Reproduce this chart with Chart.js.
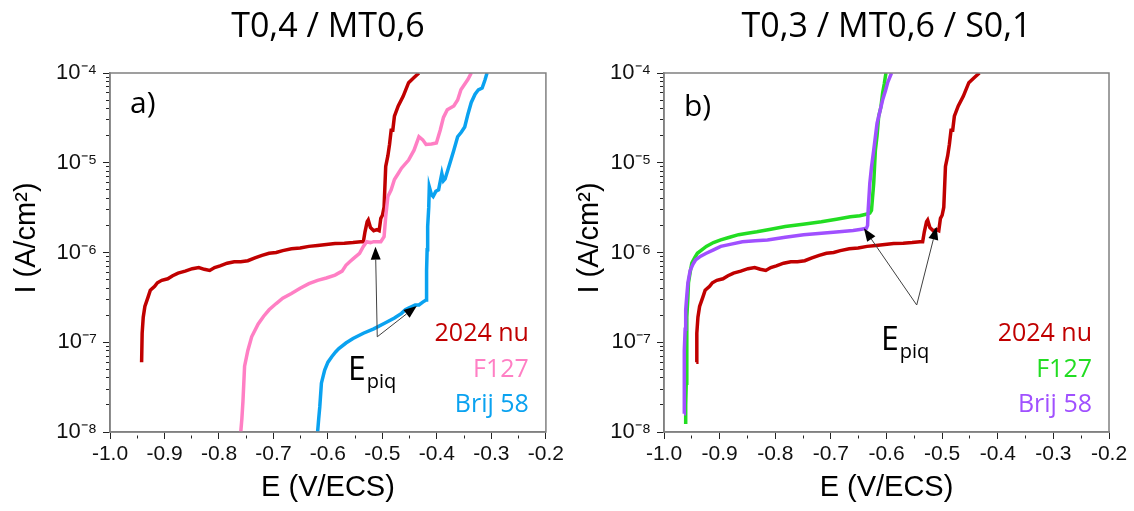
<!DOCTYPE html>
<html>
<head>
<meta charset="utf-8">
<script src="https://cdn.jsdelivr.net/npm/chart.js@4.4.1/dist/chart.umd.min.js"></script>
<style>
html,body{margin:0;padding:0;background:#fff;}
#wrap{position:relative;width:1134px;height:511px;}
canvas{position:absolute;top:0;}
</style>
</head>
<body>
<div id="wrap">
<canvas id="chartA" width="567" height="511" style="left:0"></canvas>
<canvas id="chartB" width="567" height="511" style="left:567px"></canvas>
</div>
<script>
// panel titles, series names, tick labels
const titleA = 'T0,4 / MT0,6';
const titleB = 'T0,3 / MT0,6 / S0,1';
const seriesNames = ['2024 nu', 'F127', 'Brij 58'];
const xTickLabels = ['-1.0', '-0.9', '-0.8', '-0.7', '-0.6', '-0.5', '-0.4', '-0.3', '-0.2'];
const yTickLabels = ['10⁻⁸', '10⁻⁷', '10⁻⁶', '10⁻⁵', '10⁻⁴'];

// 2024 nu (same curve on both panels)
const nuE = [-0.942, -0.941, -0.939, -0.936, -0.930, -0.926, -0.918, -0.913, -0.905, -0.894, -0.885, -0.875,
  -0.862, -0.849, -0.837, -0.827, -0.817, -0.808, -0.798, -0.785, -0.772, -0.760, -0.747, -0.734, -0.721,
  -0.708, -0.695, -0.683, -0.667, -0.651, -0.635, -0.619, -0.603, -0.587, -0.570, -0.554, -0.540, -0.535,
  -0.532, -0.528, -0.526, -0.522, -0.516, -0.510, -0.506, -0.503, -0.500, -0.497, -0.494, -0.490, -0.487,
  -0.484, -0.481, -0.478, -0.471, -0.462, -0.452, -0.442, -0.433];
const nuI = [6.0e-8, 1.26e-7, 1.9e-7, 2.5e-7, 3.2e-7, 3.8e-7, 4.2e-7, 4.6e-7, 4.9e-7, 5.1e-7, 5.5e-7, 5.9e-7,
  6.2e-7, 6.6e-7, 6.8e-7, 6.5e-7, 6.3e-7, 6.8e-7, 7.1e-7, 7.6e-7, 7.9e-7, 7.9e-7, 8.1e-7, 8.7e-7, 9.3e-7,
  9.8e-7, 1.0e-6, 1.05e-6, 1.1e-6, 1.12e-6, 1.17e-6, 1.2e-6, 1.23e-6, 1.26e-6, 1.27e-6, 1.29e-6, 1.32e-6, 1.32e-6,
  1.7e-6, 2.2e-6, 2.3e-6, 1.9e-6, 1.75e-6, 1.8e-6, 1.75e-6, 2.4e-6, 2.6e-6, 3.2e-6, 9.1e-6, 1.2e-5, 1.6e-5,
  2.3e-5, 2.3e-5, 3.3e-5, 4.3e-5, 5.5e-5, 7.8e-5, 8.9e-5, 1.0e-4];

// panel a) F127
const f127aE = [-0.760, -0.758, -0.756, -0.753, -0.747, -0.740, -0.728, -0.718, -0.708, -0.695, -0.683, -0.667,
  -0.651, -0.635, -0.619, -0.603, -0.587, -0.574, -0.567, -0.560, -0.554, -0.542, -0.535, -0.529, -0.522,
  -0.516, -0.503, -0.497, -0.494, -0.490, -0.484, -0.478, -0.471, -0.465, -0.452, -0.442, -0.433, -0.426,
  -0.420, -0.410, -0.401, -0.394, -0.388, -0.381, -0.369, -0.362, -0.356, -0.343, -0.337];
const f127aI = [1.0e-8, 1.4e-8, 2.2e-8, 5.4e-8, 8.1e-8, 1.15e-7, 1.6e-7, 1.95e-7, 2.3e-7, 2.7e-7, 3.1e-7, 3.5e-7,
  4.0e-7, 4.5e-7, 4.9e-7, 5.2e-7, 5.6e-7, 6.2e-7, 7.2e-7, 7.9e-7, 8.5e-7, 9.8e-7, 1.17e-6, 1.32e-6, 1.29e-6,
  1.32e-6, 1.32e-6, 1.5e-6, 2.5e-6, 4.2e-6, 5.0e-6, 6.5e-6, 7.6e-6, 8.7e-6, 1.07e-5, 1.38e-5, 1.95e-5, 1.8e-5,
  1.6e-5, 1.62e-5, 1.66e-5, 2.3e-5, 3.2e-5, 3.9e-5, 4.3e-5, 5.0e-5, 6.5e-5, 8.5e-5, 1.0e-4];

// panel a) Brij 58
const brijaE = [-0.619, -0.617, -0.615, -0.612, -0.606, -0.600, -0.593, -0.586, -0.580, -0.567, -0.554, -0.535,
  -0.516, -0.497, -0.478, -0.465, -0.458, -0.452, -0.446, -0.440, -0.433, -0.426, -0.420, -0.419, -0.418,
  -0.417, -0.415, -0.414, -0.410, -0.407, -0.402, -0.397, -0.391, -0.388, -0.385, -0.378, -0.369, -0.362,
  -0.355, -0.349, -0.343, -0.337, -0.330, -0.324, -0.317, -0.312, -0.308];
const brijaI = [1.0e-8, 1.4e-8, 1.9e-8, 3.5e-8, 4.9e-8, 6.0e-8, 6.9e-8, 7.8e-8, 8.5e-8, 9.8e-8, 1.1e-7, 1.26e-7,
  1.41e-7, 1.62e-7, 1.86e-7, 2.1e-7, 2.3e-7, 2.4e-7, 2.5e-7, 2.6e-7, 2.6e-7, 2.8e-7, 2.95e-7, 6.3e-7, 1.07e-6,
  1.95e-6, 3.2e-6, 5.4e-6, 4.4e-6, 4.2e-6, 4.8e-6, 5.0e-6, 7.6e-6, 6.3e-6, 6.6e-6, 9.1e-6, 1.38e-5, 1.95e-5,
  2.2e-5, 2.5e-5, 3.5e-5, 4.7e-5, 5.8e-5, 6.5e-5, 6.8e-5, 8.3e-5, 1.0e-4];

// panel b) F127
const f127bE = [-0.961, -0.961, -0.960, -0.959, -0.957, -0.956, -0.953, -0.950, -0.945, -0.940, -0.932, -0.924,
  -0.911, -0.898, -0.882, -0.866, -0.850, -0.833, -0.808, -0.782, -0.750, -0.717, -0.690, -0.665, -0.648,
  -0.633, -0.630, -0.627, -0.623, -0.620, -0.617, -0.614, -0.610, -0.607, -0.604, -0.601];
const f127bI = [1.23e-8, 2.0e-8, 3.5e-8, 1.9e-7, 3.2e-7, 4.6e-7, 6.0e-7, 7.6e-7, 8.7e-7, 9.8e-7, 1.07e-6, 1.17e-6,
  1.29e-6, 1.38e-6, 1.48e-6, 1.58e-6, 1.64e-6, 1.7e-6, 1.82e-6, 1.95e-6, 2.07e-6, 2.2e-6, 2.35e-6, 2.5e-6, 2.57e-6,
  2.7e-6, 2.75e-6, 2.95e-6, 5.9e-6, 1.38e-5, 2.0e-5, 3.3e-5, 4.2e-5, 6.0e-5, 7.6e-5, 1.0e-4];

// panel b) Brij 58
const brijbE = [-0.964, -0.964, -0.963, -0.962, -0.961, -0.959, -0.957, -0.953, -0.948, -0.943, -0.934, -0.924,
  -0.911, -0.898, -0.879, -0.859, -0.836, -0.814, -0.782, -0.749, -0.717, -0.685, -0.660, -0.645, -0.636,
  -0.634, -0.633, -0.630, -0.627, -0.623, -0.617, -0.612, -0.607, -0.602, -0.598, -0.591];
const brijbI = [1.6e-8, 3.2e-8, 8.1e-8, 1.4e-7, 2.3e-7, 3.3e-7, 4.6e-7, 6.3e-7, 7.4e-7, 8.3e-7, 9.1e-7, 9.8e-7,
  1.07e-6, 1.17e-6, 1.24e-6, 1.32e-6, 1.35e-6, 1.38e-6, 1.48e-6, 1.58e-6, 1.64e-6, 1.7e-6, 1.76e-6, 1.82e-6, 1.86e-6,
  2.0e-6, 2.95e-6, 5.9e-6, 8.9e-6, 1.38e-5, 2.75e-5, 3.7e-5, 5.0e-5, 6.3e-5, 7.8e-5, 1.0e-4];

// E_piq arrows: [fromE, fromI, toE, toI]
const arrowsA = [[-0.5095, 1.15e-7, -0.5128, 1.16e-6], [-0.5095, 1.15e-7, -0.437, 2.54e-7]];
const arrowsB = [[-0.5457, 2.6e-7, -0.6406, 1.86e-6], [-0.5457, 2.6e-7, -0.510, 1.94e-6]];

const pts = (xs, ys) => xs.map((x, i) => ({x: x, y: ys[i]}));

const xTickFont = {family: '"Liberation Sans", Arial, sans-serif', size: 21};
const yTickFont = {family: '"Liberation Sans", Arial, sans-serif', size: 22};
const titleFont = {family: '"Liberation Sans", Arial, sans-serif', size: 29};
const textFamily = '"Open Sans", "Noto Sans", sans-serif';

const isDecade = v => Math.abs(Math.log10(v) - Math.round(Math.log10(v))) < 1e-6;

const decor = {
  id: 'decor',
  afterDatasetsDraw(chart, args, o) {
    const {ctx, chartArea: a} = chart;
    const sx = chart.scales.x, sy = chart.scales.y;
    ctx.save();
    ctx.strokeStyle = '#808080';
    ctx.lineWidth = 1.5;
    ctx.strokeRect(a.left, a.top, a.right - a.left, a.bottom - a.top);

    ctx.fillStyle = '#000';
    ctx.textBaseline = 'alphabetic';
    ctx.font = '34px ' + textFamily;
    ctx.textAlign = 'center';
    ctx.fillText(o.title, (a.left + a.right) / 2, 37);
    ctx.font = '30px ' + textFamily;
    ctx.textAlign = 'left';
    ctx.fillText(o.letter, a.left + 20, o.letterY);

    ctx.font = '25px ' + textFamily;
    ctx.textAlign = 'right';
    chart.data.datasets.forEach((d, i) => {
      ctx.fillStyle = d.borderColor;
      ctx.fillText(d.label, a.right - 17, 341 + i * 35.5);
    });

    // arrows
    o.arrows.forEach(([e0, i0, e1, i1]) => {
      const x0 = sx.getPixelForValue(e0), y0 = sy.getPixelForValue(i0);
      const x1 = sx.getPixelForValue(e1), y1 = sy.getPixelForValue(i1);
      const ang = Math.atan2(y1 - y0, x1 - x0);
      const hl = 13, hw = 5;
      const bx = x1 - hl * Math.cos(ang), by = y1 - hl * Math.sin(ang);
      ctx.strokeStyle = '#404040';
      ctx.lineWidth = 1;
      ctx.beginPath();
      ctx.moveTo(x0, y0);
      ctx.lineTo(bx, by);
      ctx.stroke();
      ctx.fillStyle = '#000';
      ctx.beginPath();
      ctx.moveTo(x1, y1);
      ctx.lineTo(bx + hw * Math.sin(ang), by - hw * Math.cos(ang));
      ctx.lineTo(bx - hw * Math.sin(ang), by + hw * Math.cos(ang));
      ctx.closePath();
      ctx.fill();
    });

    // E_piq label
    ctx.fillStyle = '#000';
    ctx.textAlign = 'left';
    ctx.font = '32px ' + textFamily;
    ctx.fillText('E', o.epiq[0], o.epiq[1]);
    const w = ctx.measureText('E').width;
    ctx.font = '20px ' + textFamily;
    ctx.fillText('piq', o.epiq[0] + w + 1, o.epiq[1] + 8);
    ctx.restore();
  }
};

function makeChart(id, sets, opts) {
  return new Chart(document.getElementById(id), {
    type: 'line',
    data: {
      datasets: sets.map((s, i) => ({
        label: seriesNames[i],
        data: s.data,
        borderColor: s.color,
        borderWidth: 3.5,
        pointRadius: 0,
        tension: 0,
        order: sets.length - i
      }))
    },
    options: {
      responsive: false,
      animation: false,
      devicePixelRatio: 1,
      layout: {padding: {left: 0, top: 73, right: opts.padRight, bottom: 0}},
      plugins: {
        legend: {display: false},
        tooltip: {enabled: false},
        decor: opts.decor
      },
      scales: {
        x: {
          type: 'linear',
          min: -1.0,
          max: -0.2,
          afterBuildTicks: s => { s.ticks = xTickLabels.flatMap((t, i) => i < xTickLabels.length - 1 ? [{value: -1 + i * 0.1}, {value: -0.95 + i * 0.1}] : [{value: -0.2}]); },
          afterFit: s => { s.height = 79; },
          ticks: {
            autoSkip: false,
            maxRotation: 0,
            padding: 3,
            color: '#111',
            font: xTickFont,
            callback: (v, i) => i % 2 ? '' : xTickLabels[i / 2]
          },
          grid: {
            drawOnChartArea: false,
            tickLength: 7,
            tickColor: '#222',
            tickBorderDash: c => c.index % 2 ? [3, 4] : [],
            tickBorderDashOffset: c => c.index % 2 ? 4 : 0
          },
          border: {color: '#808080', width: 1.5},
          title: {display: true, text: 'E (V/ECS)', font: titleFont, color: '#000', padding: {top: 0, bottom: 6}}
        },
        y: {
          type: 'logarithmic',
          min: 1e-8,
          max: 1e-4,
          afterBuildTicks: s => {
            const t = [];
            for (let e = -8; e < -4; e++) for (let m = 1; m < 10; m++) t.push({value: m * Math.pow(10, e)});
            t.push({value: 1e-4});
            s.ticks = t;
          },
          afterFit: s => { s.width = opts.yWidth; },
          ticks: {
            autoSkip: false,
            padding: 6,
            color: '#111',
            font: yTickFont,
            callback: v => isDecade(v) ? yTickLabels[Math.round(Math.log10(v)) + 8] : ''
          },
          grid: {
            drawOnChartArea: false,
            tickLength: 7,
            tickColor: '#222',
            tickBorderDash: c => (c.tick && !isDecade(c.tick.value)) ? [3, 4] : [],
            tickBorderDashOffset: c => (c.tick && !isDecade(c.tick.value)) ? 4 : 0
          },
          border: {color: '#808080', width: 1.5},
          // leading en-spaces lift the rotated label like in the original
          title: {display: true, text: '\u2002\u2002I (A/cm²)', font: titleFont, color: '#000', padding: {top: opts.yTitlePad, bottom: 0}}
        }
      }
    },
    plugins: [decor]
  });
}

makeChart('chartA', [
  {data: pts(nuE, nuI), color: '#C00000'},
  {data: pts(f127aE, f127aI), color: '#FF7FC4'},
  {data: pts(brijaE, brijaI), color: '#0AA2F0'}
], {padRight: 11, yWidth: 110, yTitlePad: 10,
    decor: {title: titleA, letter: 'a)', letterY: 113, arrows: arrowsA, epiq: [348, 380]}});

makeChart('chartB', [
  {data: pts(nuE, nuI), color: '#C00000'},
  {data: pts(f127bE, f127bI), color: '#22DD22'},
  {data: pts(brijbE, brijbI), color: '#A050FF'}
], {padRight: 25, yWidth: 97, yTitlePad: 6,
    decor: {title: titleB, letter: 'b)', letterY: 116, arrows: arrowsB, epiq: [314, 350]}});
</script>
</body>
</html>
